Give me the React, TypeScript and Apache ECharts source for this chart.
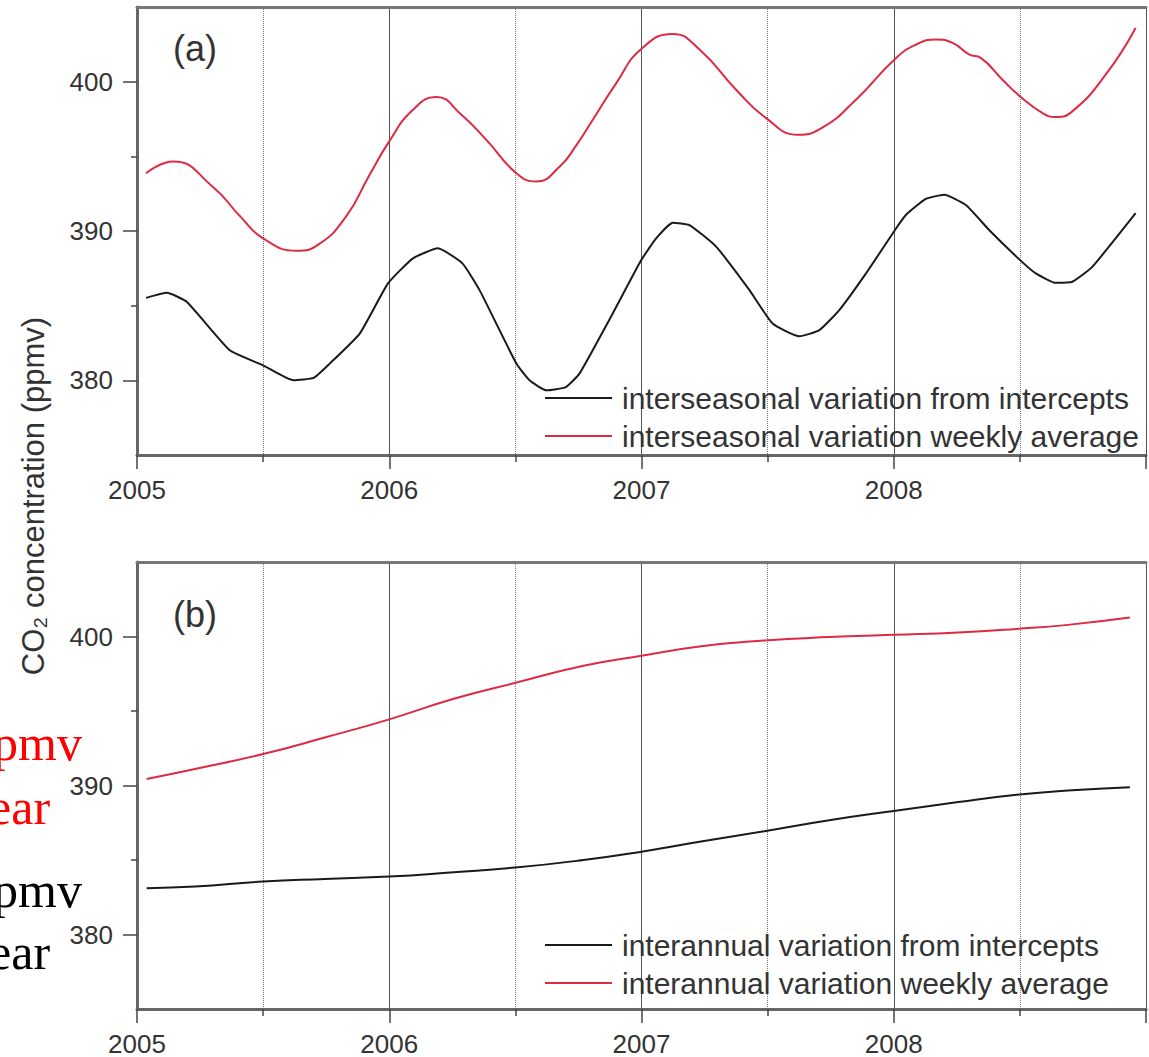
import React, { useEffect, useRef } from "react";
import * as echarts from "echarts";

const YEAR_MIN = 2005;
const YEAR_MAX = 2009;
const Y_MIN = 375;
const Y_MAX = 405;
const yMajorTicks = [380, 390, 400];
const yMinorTicks = [385, 395];

const seasonalInterceptsName = "interseasonal variation from intercepts";
const seasonalWeeklyName = "interseasonal variation weekly average";
const annualInterceptsName = "interannual variation from intercepts";
const annualWeeklyName = "interannual variation weekly average";

// panel (a): interseasonal variation
const seasonalIntercepts: [number, number][] = [
  [2005.036, 385.52], [2005.118, 385.86], [2005.197, 385.26], [2005.368, 382.01],
  [2005.5, 381.0], [2005.62, 380.0], [2005.7, 380.16], [2005.764, 381.12],
  [2005.883, 383.13], [2005.995, 386.49], [2006.094, 388.17], [2006.193, 388.84],
  [2006.29, 387.83], [2006.358, 386.04], [2006.504, 381.12], [2006.556, 380.0],
  [2006.623, 379.33], [2006.7, 379.55], [2006.754, 380.45], [2006.886, 384.48],
  [2006.999, 388.05], [2007.058, 389.51], [2007.124, 390.56], [2007.19, 390.4],
  [2007.296, 388.95], [2007.428, 386.04], [2007.52, 383.8], [2007.626, 382.95],
  [2007.705, 383.36], [2007.784, 384.7], [2007.89, 387.16], [2008.005, 390.07],
  [2008.048, 391.07], [2008.127, 392.15], [2008.2, 392.42], [2008.286, 391.74],
  [2008.378, 390.07], [2008.501, 388.05], [2008.563, 387.16], [2008.642, 386.53],
  [2008.708, 386.6], [2008.787, 387.6], [2008.959, 391.19],
];

const seasonalWeekly: [number, number][] = [
  [2005.036, 393.87], [2005.144, 394.65], [2005.3, 392.97], [2005.41, 390.96],
  [2005.5, 389.51], [2005.632, 388.68], [2005.72, 389.1], [2005.83, 391.0],
  [2005.92, 393.7], [2006.0, 396.0], [2006.094, 398.12], [2006.187, 398.97],
  [2006.285, 397.8], [2006.385, 396.1], [2006.504, 393.87], [2006.583, 393.31],
  [2006.675, 394.3], [2006.74, 395.7], [2006.807, 397.45], [2006.9, 399.9],
  [2006.999, 402.19], [2007.124, 403.2], [2007.23, 402.15], [2007.375, 399.46],
  [2007.494, 397.56], [2007.62, 396.44], [2007.72, 396.95], [2007.85, 398.79],
  [2008.005, 401.52], [2008.088, 402.48], [2008.167, 402.82], [2008.233, 402.6],
  [2008.3, 401.81], [2008.345, 401.59], [2008.431, 400.13], [2008.501, 399.01],
  [2008.59, 397.9], [2008.642, 397.63], [2008.708, 398.01], [2008.84, 400.47],
  [2008.959, 403.6],
];

// panel (b): interannual variation
const annualIntercepts: [number, number][] = [
  [2005.038, 383.11], [2005.23, 383.22], [2005.5, 383.56], [2005.744, 383.73],
  [2006.0, 383.89], [2006.256, 384.18], [2006.5, 384.49], [2006.77, 385.0],
  [2007.0, 385.56], [2007.23, 386.22], [2007.487, 386.93], [2007.744, 387.67],
  [2008.0, 388.29], [2008.256, 388.89], [2008.487, 389.38], [2008.69, 389.67],
  [2008.936, 389.89],
];

const annualWeekly: [number, number][] = [
  [2005.038, 390.44], [2005.23, 391.11], [2005.5, 392.11], [2005.744, 393.22],
  [2006.0, 394.44], [2006.256, 395.82], [2006.5, 396.89], [2006.77, 398.04],
  [2007.0, 398.71], [2007.23, 399.33], [2007.487, 399.73], [2007.744, 399.96],
  [2008.0, 400.11], [2008.256, 400.27], [2008.487, 400.51], [2008.69, 400.78],
  [2008.936, 401.27],
];

const RED = "#dc2b43";
const BLACK = "#1a1a1a";
const FONT = "'Liberation Sans', Arial, sans-serif";
const SERIF = "'Liberation Serif', 'Times New Roman', serif";

function xAxes(gridIndex: number) {
  return [
    {
      type: "value",
      gridIndex,
      min: YEAR_MIN,
      max: YEAR_MAX,
      interval: 1,
      axisLine: { show: true, onZero: false, lineStyle: { color: "#666", width: 3 } },
      axisTick: { show: true, inside: false, length: 14, lineStyle: { color: "#444", width: 1.5 } },
      minorTick: { show: true, splitNumber: 2, length: 7, lineStyle: { color: "#444", width: 1.5 } },
      axisLabel: {
        show: true,
        margin: 22,
        fontSize: 26,
        fontFamily: FONT,
        color: "#333",
        formatter: (v: number) => (v >= YEAR_MAX ? "" : String(v)),
      },
      splitLine: { show: true, lineStyle: { color: "#555", width: 1, type: "solid" } },
      minorSplitLine: { show: true, lineStyle: { color: "#777", width: 1, type: "dotted" } },
    },
    {
      type: "value",
      gridIndex,
      position: "top",
      min: YEAR_MIN,
      max: YEAR_MAX,
      interval: 1,
      axisLine: { show: true, onZero: false, lineStyle: { color: "#777", width: 3 } },
      axisTick: { show: false },
      axisLabel: { show: false },
      splitLine: { show: false },
    },
  ];
}

function yAxes(gridIndex: number) {
  return [
    {
      type: "value",
      gridIndex,
      min: Y_MIN,
      max: Y_MAX,
      axisLine: { show: true, onZero: false, lineStyle: { color: "#666", width: 3 } },
      axisTick: { show: true, length: 14, customValues: yMajorTicks, lineStyle: { color: "#444", width: 1.5 } },
      axisLabel: {
        show: true,
        customValues: yMajorTicks,
        margin: 24,
        fontSize: 26,
        fontFamily: FONT,
        color: "#333",
      },
      splitLine: { show: false },
    },
    {
      type: "value",
      gridIndex,
      position: "left",
      min: Y_MIN,
      max: Y_MAX,
      axisLine: { show: false },
      axisTick: { show: true, length: 6, customValues: yMinorTicks, lineStyle: { color: "#444", width: 1.5 } },
      axisLabel: { show: false },
      splitLine: { show: false },
    },
  ];
}

function lineSeries(name: string, data: [number, number][], color: string, axis: number, smooth: number | boolean) {
  return {
    name,
    type: "line",
    xAxisIndex: axis * 2,
    yAxisIndex: axis * 2,
    data,
    smooth,
    symbol: "none",
    showSymbol: false,
    lineStyle: { color, width: 2 },
    itemStyle: { color },
    z: 5,
  };
}

function legend(top: number, names: string[]) {
  return {
    data: names,
    orient: "vertical",
    left: 545,
    top,
    padding: 0,
    icon: "rect",
    itemWidth: 67,
    itemHeight: 2,
    itemGap: 8,
    selectedMode: false,
    textStyle: { fontSize: 30, lineHeight: 30, fontFamily: FONT, color: "#333", padding: [0, 0, 0, 5] },
  };
}

function sideText(text: string, x: number, y: number, color: string) {
  return {
    type: "text",
    x,
    y,
    style: {
      text,
      fill: color,
      fontSize: 50,
      fontFamily: SERIF,
      textAlign: "left",
      textVerticalAlign: "middle",
    },
  };
}

export default function App() {
  const ref = useRef<HTMLDivElement>(null);

  useEffect(() => {
    if (!ref.current) return;
    const chart = echarts.init(ref.current, null, { renderer: "svg" });
    chart.setOption({
      animation: false,
      backgroundColor: "#fff",
      grid: [
        { left: 137, right: 2, top: 7, height: 448, show: false },
        { left: 137, right: 2, top: 562, height: 448, show: false },
      ],
      xAxis: [...xAxes(0), ...xAxes(1)],
      yAxis: [...yAxes(0), ...yAxes(1)],
      legend: [
        legend(383, [seasonalInterceptsName, seasonalWeeklyName]),
        legend(930, [annualInterceptsName, annualWeeklyName]),
      ],
      series: [
        lineSeries(seasonalInterceptsName, seasonalIntercepts, BLACK, 0, 0.15),
        lineSeries(seasonalWeeklyName, seasonalWeekly, RED, 0, 0.5),
        lineSeries(annualInterceptsName, annualIntercepts, BLACK, 1, 0.5),
        lineSeries(annualWeeklyName, annualWeekly, RED, 1, 0.5),
      ],
      graphic: [
        {
          type: "text",
          x: 33,
          y: 496,
          rotation: Math.PI / 2,
          style: {
            text: "CO₂ concentration (ppmv)",
            fill: "#333",
            fontSize: 31,
            fontFamily: FONT,
            textAlign: "center",
            textVerticalAlign: "middle",
          },
        },
        {
          type: "text",
          x: 195,
          y: 48,
          style: { text: "(a)", fill: "#333", fontSize: 36, fontFamily: FONT, textAlign: "center", textVerticalAlign: "middle" },
        },
        {
          type: "text",
          x: 195,
          y: 614,
          style: { text: "(b)", fill: "#333", fontSize: 36, fontFamily: FONT, textAlign: "center", textVerticalAlign: "middle" },
        },
        sideText("ppmv", -32, 743, "#ff0000"),
        sideText("year", -36, 807, "#ff0000"),
        sideText("ppmv", -32, 890, "#000"),
        sideText("year", -36, 952, "#000"),
      ],
    });
    return () => chart.dispose();
  }, []);

  return (
    <div
      ref={ref}
      style={{ position: "absolute", left: 0, top: 0, width: 1149, height: 1057, background: "#fff" }}
    />
  );
}
